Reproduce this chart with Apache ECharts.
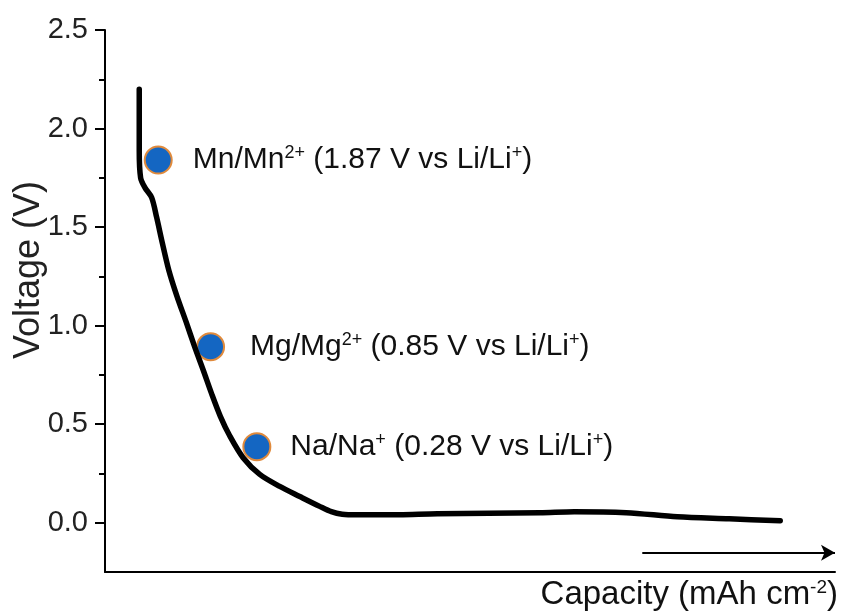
<!DOCTYPE html>
<html>
<head>
<meta charset="utf-8">
<script src="https://cdn.jsdelivr.net/npm/echarts@6/dist/echarts.min.js"></script>
<style>
html,body{margin:0;padding:0;background:#fff;}
#chart{width:841px;height:614px;}
</style>
</head>
<body>
<div id="chart"></div>
<script>
// Discharge curve (capacity in arbitrary units 0-100, voltage in V)
var capacity = [4.69, 4.69, 4.88, 5.47, 6.39, 7.07, 7.85, 8.75, 9.85, 11.1, 12.31, 13.45, 14.6, 15.8, 17.1, 18.92, 21.2, 23.94, 26.68, 29.41, 31.0, 32.5, 34.5, 40.36, 45.55, 59.6, 64.3, 71.4, 78.4, 85.5, 92.5];
var voltage  = [2.20, 1.89, 1.75, 1.70, 1.65, 1.55, 1.42, 1.28, 1.15, 1.02, 0.89, 0.775, 0.655, 0.54, 0.44, 0.33, 0.245, 0.184, 0.133, 0.083, 0.056, 0.043, 0.040, 0.041, 0.046, 0.051, 0.056, 0.051, 0.030, 0.020, 0.010];

// Reference redox couples
var coupleNames = ['Mn/Mn', 'Mg/Mg', 'Na/Na'];
var coupleCharges = ['2+', '2+', '+'];
var coupleVoltages = ['1.87', '0.85', '0.28'];
var markerCapacity = [7.29, 14.46, 20.8];
var markerVoltage = [1.84, 0.893, 0.386];

// Axis ticks
var majorTicks = [0, 0.5, 1.0, 1.5, 2.0, 2.5];
var minorTicks = [0.25, 0.75, 1.25, 1.75, 2.25];

// Arrow along capacity direction
var arrowStart = [73.6, -0.152];
var arrowEnd = [100, -0.152];

var FONT = "'Liberation Sans', Arial, sans-serif";

var lineData = capacity.map(function (c, i) { return [c, voltage[i]]; });
var labelDistances = [20, 25, 19];
var markerData = markerCapacity.map(function (c, i) {
  return {
    value: [c, markerVoltage[i]],
    label: {
      distance: labelDistances[i],
      formatter: '{a|' + coupleNames[i] + '}{s|' + coupleCharges[i] + '}{a| (' + coupleVoltages[i] + ' V vs Li/Li}{s|+}{a|)}'
    }
  };
});

var chart = echarts.init(document.getElementById('chart'), null, {renderer: 'canvas'});
chart.setOption({
  backgroundColor: '#ffffff',
  animation: false,
  grid: {left: 105, right: 6, top: 30, bottom: 42, containLabel: false, outerBoundsMode: 'none'},
  xAxis: {
    type: 'value', min: 0, max: 100,
    axisLine: {show: true, onZero: false, lineStyle: {color: '#000', width: 2}},
    axisTick: {show: false},
    axisLabel: {show: false},
    splitLine: {show: false},
    name: '{a|Capacity (mAh cm}{s|-2}{a|)}',
    nameLocation: 'end',
    nameGap: 3,
    nameMoveOverlap: false,
    nameTextStyle: {
      align: 'right', verticalAlign: 'top', padding: [6, 0, 0, 0],
      rich: {
        a: {fontSize: 33, fontFamily: FONT, color: '#111', lineHeight: 34},
        s: {fontSize: 19, fontFamily: FONT, color: '#111', verticalAlign: 'top', lineHeight: 19}
      }
    }
  },
  yAxis: [{
    type: 'value', min: -0.25, max: 2.5, position: 'left',
    axisLine: {show: true, onZero: false, lineStyle: {color: '#000', width: 2}},
    axisTick: {show: true, customValues: majorTicks, length: 10, lineStyle: {color: '#000', width: 2}},
    axisLabel: {customValues: majorTicks, formatter: function (v) { return v.toFixed(1); },
      fontSize: 29, fontFamily: FONT, color: '#222', margin: 17},
    splitLine: {show: false},
    name: 'Voltage (V)',
    nameLocation: 'middle',
    nameGap: 58,
    nameMoveOverlap: false,
    nameTextStyle: {fontSize: 36, fontFamily: FONT, color: '#222', padding: [0, 0, 0, 62]}
  }, {
    type: 'value', min: -0.25, max: 2.5, position: 'left',
    axisLine: {show: false},
    axisTick: {show: true, customValues: minorTicks, length: 6, lineStyle: {color: '#000', width: 2}},
    axisLabel: {show: false},
    splitLine: {show: false}
  }],
  series: [{
    type: 'scatter',
    yAxisIndex: 0,
    z: 2,
    symbol: 'circle',
    symbolSize: 27,
    itemStyle: {color: '#1466C2', borderColor: '#E08A3C', borderWidth: 2, opacity: 1},
    label: {
      show: true, position: 'right',
      rich: {
        a: {fontSize: 30, fontFamily: FONT, color: '#111', lineHeight: 32},
        s: {fontSize: 18, fontFamily: FONT, color: '#111', verticalAlign: 'top', lineHeight: 18}
      }
    },
    data: markerData
  }, {
    type: 'line',
    yAxisIndex: 0,
    z: 3,
    smooth: 0.3,
    showSymbol: false,
    lineStyle: {color: '#000', width: 5.5, cap: 'round', join: 'round'},
    data: lineData,
    markLine: {
      silent: true,
      symbol: ['none', 'arrow'],
      symbolSize: [12, 14],
      label: {show: false},
      lineStyle: {color: '#000', width: 2, type: 'solid'},
      data: [[{coord: arrowStart}, {coord: arrowEnd}]]
    }
  }]
});
</script>
</body>
</html>
